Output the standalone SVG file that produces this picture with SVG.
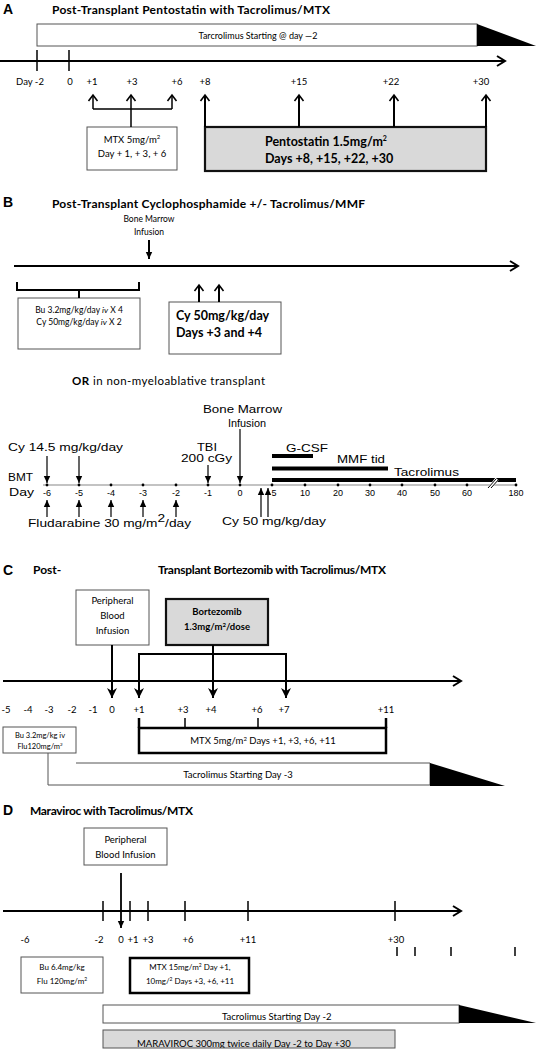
<svg xmlns="http://www.w3.org/2000/svg" width="537" height="1050" viewBox="0 0 537 1050">
<style>
.c{font-family:Lato,"Liberation Sans",sans-serif;fill:#000}
.ar{font-family:"Liberation Sans",Arial,sans-serif;fill:#000}
.pl{font-family:"Liberation Sans",Arial,sans-serif;font-weight:bold;font-size:14px}
.ti{font-weight:bold;font-size:12px}
.m{text-anchor:middle}
.box{fill:#fff;stroke:#555;stroke-width:1}
.gbox{fill:#d9d9d9;stroke:#111;stroke-width:2.2}
.ln{stroke:#000;fill:none}
.tk{stroke:#000;stroke-width:1.5}
</style>
<defs>
<marker id="chev" markerUnits="userSpaceOnUse" markerWidth="14" markerHeight="14" viewBox="-10 -7 14 14" refX="0" refY="0" orient="auto"><path d="M-6,-4.5 L0,0 L-6,4.5" fill="none" stroke="#000" stroke-width="1.6"/></marker>
<marker id="chevL" markerUnits="userSpaceOnUse" markerWidth="16" markerHeight="16" viewBox="-12 -8 16 16" refX="0" refY="0" orient="auto"><path d="M-8,-5 L0,0 L-8,5" fill="none" stroke="#000" stroke-width="2"/></marker>
<marker id="tri" markerUnits="userSpaceOnUse" markerWidth="12" markerHeight="12" viewBox="-10 -6 12 12" refX="0" refY="0" orient="auto"><path d="M-7,-3.2 L0,0 L-7,3.2 Z" fill="#000"/></marker>
<marker id="triB" markerUnits="userSpaceOnUse" markerWidth="14" markerHeight="14" viewBox="-12 -7 14 14" refX="0" refY="0" orient="auto"><path d="M-10,-5 L0,0 L-10,5 L-7,0 Z" fill="#000"/></marker>
<clipPath id="clipT"><rect x="103" y="1005" width="356" height="18"/></clipPath>
<clipPath id="clipM"><rect x="103" y="1030" width="292" height="18"/></clipPath>
</defs>

<!-- PANEL A -->
<g id="panelA">
<text x="3" y="14" class="pl">A</text>
<text x="52" y="14" class="c ti" textLength="278">Post-Transplant Pentostatin with Tacrolimus/MTX</text>
<g id="A-tacrolimus">
<rect x="37" y="24" width="440" height="22" class="box"/>
<polygon points="477,24 477,46 536,46" fill="#000"/>
<text x="258" y="38.5" class="c m" font-size="9">Tarcrolimus Starting @ day —2</text>
</g>
<g id="A-axis-labels" class="c m" font-size="9.5">
<text x="30" y="85">Day -2</text>
<text x="70" y="85">0</text>
<text x="92" y="85">+1</text>
<text x="132" y="85">+3</text>
<text x="177" y="85">+6</text>
<text x="205" y="85">+8</text>
<text x="299" y="85">+15</text>
<text x="391" y="85">+22</text>
<text x="481" y="85">+30</text>
</g>
<g id="A-mtx">
<rect x="87" y="127" width="90" height="43" class="box"/>
<text x="132" y="143" class="c m" font-size="9.5">MTX 5mg/m<tspan dy="-4" font-size="6">2</tspan></text>
<text x="132" y="157" class="c m" font-size="9.5">Day + 1, + 3, + 6</text>
</g>
<g id="A-pentostatin">
<rect x="205" y="127" width="281" height="44" class="gbox"/>
<text x="265" y="146" class="c" font-size="12.5" font-weight="bold">Pentostatin 1.5mg/m<tspan dy="-5" font-size="7">2</tspan></text>
<text x="265" y="163" class="c" font-size="12.5" font-weight="bold">Days +8, +15, +22, +30</text>
</g>
</g>

<!-- PANEL B -->
<g id="panelB">
<text x="3" y="207" class="pl">B</text>
<text x="52" y="208" class="c ti" textLength="313">Post-Transplant Cyclophosphamide +/- Tacrolimus/MMF</text>
<g id="B-bmi">
<text x="149" y="222" class="c m" font-size="8.5">Bone Marrow</text>
<text x="149" y="235" class="c m" font-size="8.5">Infusion</text>
</g>
<g id="B-bu">
<rect x="18" y="298" width="122" height="51" class="box"/>
<text x="79" y="313" class="c m" font-size="8.5">Bu 3.2mg/kg/day <tspan font-style="italic">iv</tspan> X 4</text>
<text x="79" y="325" class="c m" font-size="8.5">Cy 50mg/kg/day <tspan font-style="italic">iv</tspan> X 2</text>
</g>
<g id="B-cy">
<rect x="169" y="302" width="112" height="52" class="box"/>
<text x="176" y="320" class="c" font-size="12.5" font-weight="bold">Cy 50mg/kg/day</text>
<text x="176" y="337" class="c" font-size="12.5" font-weight="bold">Days +3 and +4</text>
</g>
<text x="72" y="385" class="c" font-size="11.5" textLength="193"><tspan font-weight="bold">OR</tspan> in non-myeloablative transplant</text>

<g id="B2-labels" class="ar" font-size="11">
<text x="8" y="451" textLength="115" lengthAdjust="spacingAndGlyphs">Cy 14.5 mg/kg/day</text>
<text x="197" y="451" textLength="20" lengthAdjust="spacingAndGlyphs">TBI</text>
<text x="181" y="462" textLength="51" lengthAdjust="spacingAndGlyphs">200 cGy</text>
<text x="203" y="413" textLength="79" lengthAdjust="spacingAndGlyphs">Bone Marrow</text>
<text x="228" y="427" textLength="38" lengthAdjust="spacingAndGlyphs">Infusion</text>
<text x="8" y="481" textLength="25" lengthAdjust="spacingAndGlyphs">BMT</text>
<text x="9" y="496" textLength="25" lengthAdjust="spacingAndGlyphs">Day</text>
<text x="28" y="527" textLength="163" lengthAdjust="spacingAndGlyphs">Fludarabine 30 mg/m<tspan dy="-5">2</tspan><tspan dy="5">/day</tspan></text>
<text x="222" y="525" textLength="104" lengthAdjust="spacingAndGlyphs">Cy 50 mg/kg/day</text>
<text x="286" y="452" textLength="42" lengthAdjust="spacingAndGlyphs">G-CSF</text>
<text x="337" y="463" textLength="48" lengthAdjust="spacingAndGlyphs">MMF tid</text>
<text x="394" y="476" textLength="65" lengthAdjust="spacingAndGlyphs">Tacrolimus</text>
</g>
<g id="B2-ticks" class="ar m" font-size="9">
<text x="47" y="496">-6</text>
<text x="79" y="496">-5</text>
<text x="111" y="496">-4</text>
<text x="143" y="496">-3</text>
<text x="176" y="496">-2</text>
<text x="208" y="496">-1</text>
<text x="240" y="496">0</text>
<text x="274" y="496">5</text>
<text x="305" y="496">10</text>
<text x="338" y="496">20</text>
<text x="370" y="496">30</text>
<text x="402" y="496">40</text>
<text x="435" y="496">50</text>
<text x="467" y="496">60</text>
<text x="516" y="496">180</text>
</g>
<g id="B2-bars" fill="#000">
<rect x="272" y="454" width="41" height="4"/>
<rect x="272" y="466.5" width="116" height="4"/>
<rect x="272" y="478" width="244" height="4"/>
</g>
</g>

<!-- PANEL C -->
<g id="panelC">
<text x="3" y="575" class="pl">C</text>
<text x="33" y="574" class="c ti" font-size="11">Post-</text>
<text x="158" y="574" class="c ti" font-size="11" textLength="228">Transplant Bortezomib with Tacrolimus/MTX</text>
<g id="C-pbi">
<rect x="76" y="590" width="73" height="55" class="box"/>
<text x="112.5" y="604" class="c m" font-size="9.5">Peripheral</text>
<text x="112.5" y="619" class="c m" font-size="9.5">Blood</text>
<text x="112.5" y="634" class="c m" font-size="9.5">Infusion</text>
</g>
<g id="C-bortezomib">
<rect x="166" y="599" width="102" height="46" class="gbox" stroke-width="2.5"/>
<text x="217" y="615" class="c m" font-size="9.5" font-weight="bold">Bortezomib</text>
<text x="217" y="630" class="c m" font-size="9.5" font-weight="bold">1.3mg/m<tspan dy="-3.5" font-size="6">2</tspan><tspan dy="3.5">/dose</tspan></text>
</g>
<g id="C-axis-labels" class="c m" font-size="9.5">
<text x="6" y="713">-5</text>
<text x="28" y="713">-4</text>
<text x="49" y="713">-3</text>
<text x="72" y="713">-2</text>
<text x="93" y="713">-1</text>
<text x="112" y="713">0</text>
<text x="139" y="713">+1</text>
<text x="183" y="713">+3</text>
<text x="211" y="713">+4</text>
<text x="257" y="713">+6</text>
<text x="284" y="713">+7</text>
<text x="386" y="713">+11</text>
</g>
<g id="C-mtx">
<rect x="139" y="728" width="247" height="25" fill="#fff" stroke="#000" stroke-width="2.5"/>
<text x="263" y="744" class="c m" font-size="9.5">MTX 5mg/m<tspan dy="-3.5" font-size="6">2</tspan><tspan dy="3.5"> Days +1, +3, +6, +11</tspan></text>
</g>
<g id="C-bu">
<rect x="3" y="727" width="73" height="26" class="box"/>
<text x="40" y="738" class="c m" font-size="7.5">Bu 3.2mg/kg iv</text>
<text x="40" y="749" class="c m" font-size="7.5">Flu120mg/m<tspan dy="-3" font-size="4.5">2</tspan></text>
</g>
<g id="C-tacrolimus">
<path d="M76,763 H430 V785 H48 V753" fill="none" stroke="#555" stroke-width="1"/>
<polygon points="430,763 430,786 505,786" fill="#000"/>
<text x="238" y="778" class="c m" font-size="9.5">Tacrolimus Starting Day -3</text>
</g>
</g>

<!-- PANEL D -->
<g id="panelD">
<text x="3" y="815" class="pl">D</text>
<text x="30" y="815" class="c ti" font-size="11" textLength="163">Maraviroc with Tacrolimus/MTX</text>
<g id="D-pbi">
<rect x="84" y="828" width="83" height="37" class="box"/>
<text x="125.5" y="843" class="c m" font-size="9.5">Peripheral</text>
<text x="125.5" y="858" class="c m" font-size="9.5">Blood Infusion</text>
</g>
<g id="D-axis-labels" class="c m" font-size="9.5">
<text x="25" y="943">-6</text>
<text x="99" y="943">-2</text>
<text x="121" y="943">0</text>
<text x="133" y="943">+1</text>
<text x="148" y="943">+3</text>
<text x="188" y="943">+6</text>
<text x="248" y="943">+11</text>
<text x="396" y="943">+30</text>
</g>
<g id="D-bu">
<rect x="21" y="957" width="82" height="36" class="box"/>
<text x="62" y="970" class="c m" font-size="8">Bu 6.4mg/kg</text>
<text x="62" y="984" class="c m" font-size="8">Flu 120mg/m<tspan dy="-3" font-size="5">2</tspan></text>
</g>
<g id="D-mtx">
<rect x="130" y="958" width="119" height="35" fill="#fff" stroke="#000" stroke-width="2.5"/>
<text x="190" y="970" class="c m" font-size="8">MTX 15mg/m<tspan dy="-3" font-size="5">2</tspan><tspan dy="3"> Day +1,</tspan></text>
<text x="190" y="984" class="c m" font-size="8">10mg/<tspan dy="-3" font-size="5">2</tspan><tspan dy="3"> Days +3, +6, +11</tspan></text>
</g>
<g id="D-tacrolimus">
<rect x="103" y="1005" width="356" height="18" class="box"/>
<polygon points="459,1005 459,1023 536,1023" fill="#000"/>
<text x="222" y="1020" class="c" font-size="9.5" clip-path="url(#clipT)">Tacrolimus Starting Day -2</text>
</g>
<g id="D-maraviroc">
<rect x="103" y="1030" width="292" height="18" fill="#d9d9d9" stroke="#555" stroke-width="1"/>
<text x="137" y="1046.5" class="c" font-size="9.5" clip-path="url(#clipM)">MARAVIROC 300mg twice daily Day -2 to Day +30</text>
</g>
</g>

<!-- CONNECTORS -->
<g id="connectors">
<!-- A -->
<line x1="0" y1="61" x2="505" y2="61" class="ln" stroke-width="2.2" marker-end="url(#chevL)"/>
<line x1="37" y1="50" x2="37" y2="71" class="tk"/>
<line x1="69" y1="50" x2="69" y2="71" class="tk"/>
<path d="M93,109 H172 M131,127 V109" class="ln" stroke-width="1.5"/>
<line x1="93" y1="109" x2="93" y2="95" class="ln" stroke-width="1.5" marker-end="url(#chev)"/>
<line x1="131" y1="109" x2="131" y2="95" class="ln" stroke-width="1.5" marker-end="url(#chev)"/>
<line x1="172" y1="109" x2="172" y2="95" class="ln" stroke-width="1.5" marker-end="url(#chev)"/>
<line x1="205" y1="127" x2="205" y2="95" class="ln" stroke-width="2" marker-end="url(#chev)"/>
<line x1="299" y1="127" x2="299" y2="95" class="ln" stroke-width="2" marker-end="url(#chev)"/>
<line x1="394" y1="127" x2="394" y2="95" class="ln" stroke-width="2" marker-end="url(#chev)"/>
<line x1="486" y1="127" x2="486" y2="95" class="ln" stroke-width="2" marker-end="url(#chev)"/>
<!-- B top -->
<line x1="149" y1="240" x2="149" y2="259" class="ln" stroke-width="2" marker-end="url(#tri)"/>
<line x1="14" y1="266" x2="518" y2="266" class="ln" stroke-width="2.2" marker-end="url(#chevL)"/>
<path d="M17,282 V290 H139 V282 M79,290 V298" class="ln" stroke-width="2"/>
<line x1="199" y1="302" x2="199" y2="285" class="ln" stroke-width="2" marker-end="url(#chev)"/>
<line x1="219" y1="302" x2="219" y2="285" class="ln" stroke-width="2" marker-end="url(#chev)"/>
<!-- B bottom -->
<line x1="43" y1="485" x2="516" y2="485" stroke="#888" stroke-width="1.2"/>
<g fill="#000">
<circle cx="47" cy="485" r="1.4"/><circle cx="79" cy="485" r="1.4"/><circle cx="111" cy="485" r="1.4"/><circle cx="143" cy="485" r="1.4"/><circle cx="176" cy="485" r="1.4"/><circle cx="208" cy="485" r="1.4"/><circle cx="240" cy="485" r="1.4"/><circle cx="272" cy="485" r="1.4"/><circle cx="305" cy="485" r="1.4"/><circle cx="338" cy="485" r="1.4"/><circle cx="370" cy="485" r="1.4"/><circle cx="402" cy="485" r="1.4"/><circle cx="435" cy="485" r="1.4"/><circle cx="467" cy="485" r="1.4"/><circle cx="516" cy="485" r="1.4"/>
</g>
<line x1="489" y1="489" x2="497" y2="479" stroke="#fff" stroke-width="4"/>
<line x1="488" y1="488" x2="496" y2="479" stroke="#000" stroke-width="1"/>
<line x1="491" y1="488" x2="499" y2="479" stroke="#000" stroke-width="1"/>
<g class="ln" stroke-width="1.2">
<line x1="47" y1="456" x2="47" y2="483" marker-end="url(#tri)"/>
<line x1="79" y1="456" x2="79" y2="483" marker-end="url(#tri)"/>
<line x1="208" y1="465" x2="208" y2="483" marker-end="url(#tri)"/>
<line x1="240" y1="429" x2="240" y2="483" marker-end="url(#tri)"/>
<line x1="47" y1="517" x2="47" y2="500" marker-end="url(#tri)"/>
<line x1="79" y1="517" x2="79" y2="500" marker-end="url(#tri)"/>
<line x1="111" y1="517" x2="111" y2="500" marker-end="url(#tri)"/>
<line x1="143" y1="517" x2="143" y2="500" marker-end="url(#tri)"/>
<line x1="176" y1="517" x2="176" y2="500" marker-end="url(#tri)"/>
<line x1="261" y1="517" x2="261" y2="488" marker-end="url(#tri)"/>
<line x1="268" y1="517" x2="268" y2="488" marker-end="url(#tri)"/>
</g>
<!-- C -->
<line x1="3" y1="681" x2="461" y2="681" class="ln" stroke-width="2.2" marker-end="url(#chevL)"/>
<line x1="112" y1="645" x2="112" y2="698" class="ln" stroke-width="2" marker-end="url(#triB)"/>
<line x1="139" y1="654" x2="286" y2="654" class="ln" stroke-width="2"/>
<line x1="139" y1="653" x2="139" y2="698" class="ln" stroke-width="2" marker-end="url(#triB)"/>
<line x1="213" y1="645" x2="213" y2="698" class="ln" stroke-width="2" marker-end="url(#triB)"/>
<line x1="286" y1="653" x2="286" y2="698" class="ln" stroke-width="2" marker-end="url(#triB)"/>
<line x1="139" y1="718" x2="139" y2="728" class="ln" stroke-width="2.5"/>
<line x1="185" y1="718" x2="185" y2="728" class="ln" stroke-width="1.5"/>
<line x1="258" y1="718" x2="258" y2="728" class="ln" stroke-width="1.5"/>
<line x1="386" y1="718" x2="386" y2="728" class="ln" stroke-width="2.5"/>
<!-- D -->
<line x1="3" y1="911" x2="461" y2="911" class="ln" stroke-width="2" marker-end="url(#chevL)"/>
<line x1="121" y1="873" x2="121" y2="928" class="ln" stroke-width="1.8" marker-end="url(#tri)"/>
<g class="tk" stroke-width="2">
<line x1="103" y1="901" x2="103" y2="921"/>
<line x1="130" y1="901" x2="130" y2="921"/>
<line x1="148" y1="901" x2="148" y2="921"/>
<line x1="185" y1="901" x2="185" y2="921"/>
<line x1="248" y1="901" x2="248" y2="921"/>
<line x1="395" y1="901" x2="395" y2="921"/>
<line x1="397" y1="947" x2="397" y2="956"/>
<line x1="415" y1="947" x2="415" y2="956"/>
<line x1="451" y1="947" x2="451" y2="956"/>
<line x1="515" y1="947" x2="515" y2="956"/>
</g>
</g>
</svg>
